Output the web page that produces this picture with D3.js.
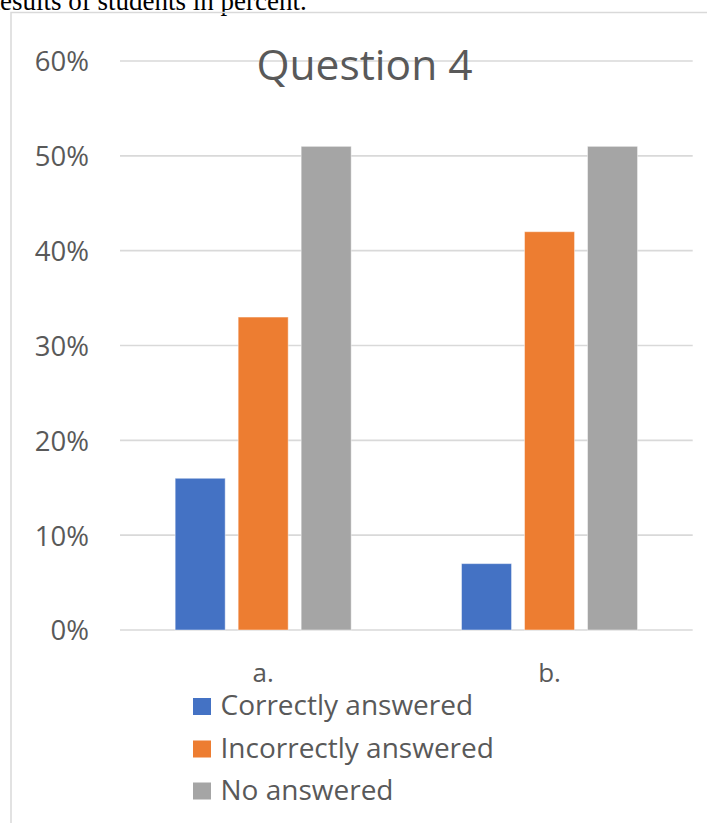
<!DOCTYPE html>
<html>
<head>
<meta charset="utf-8">
<script src="https://cdn.jsdelivr.net/npm/d3@7/dist/d3.min.js"></script>
<style>
  html, body { margin: 0; padding: 0; background: #fff; overflow: hidden; }
  svg { display: block; }
</style>
</head>
<body>
<svg id="chart" width="707" height="823"></svg>
<script>
// ---- data ----
const categories = ["a.", "b."];
const seriesNames = ["Correctly answered", "Incorrectly answered", "No answered"];
const correctly = [0.16, 0.07];
const incorrectly = [0.33, 0.42];
const noAnswered = [0.51, 0.51];
const yTicks = [0, 0.1, 0.2, 0.3, 0.4, 0.5, 0.6];
const titleText = "Question 4";
const captionText = "Results of students in percent.";

const seriesValues = [correctly, incorrectly, noAnswered];
const colors = ["#4472C4", "#ED7D31", "#A5A5A5"];

const svg = d3.select("#chart");
const textColor = "#595959";
const font = "'Open Sans', sans-serif";

// caption above the chart (cropped in the reference)
svg.append("text")
  .attr("x", -18).attr("y", 10)
  .attr("font-family", "'Liberation Serif', 'Times New Roman', serif")
  .attr("font-size", 27)
  .attr("fill", "#000")
  .text(captionText);

// chart frame
svg.append("path")
  .attr("d", "M11,823 L11,12.5 L707,12.5")
  .attr("fill", "none")
  .attr("stroke", "#d9d9d9")
  .attr("stroke-width", 1.5);

const plot = { left: 120, right: 692.7, top: 61, bottom: 630 };

const y = d3.scaleLinear().domain([0, 0.6]).range([plot.bottom, plot.top]);
const x0 = d3.scaleBand().domain(categories).range([plot.left, plot.right])
  .paddingInner(0.3853).paddingOuter(0.3853 / 2);
const x1 = d3.scaleBand().domain(d3.range(seriesNames.length)).range([0, x0.bandwidth()])
  .paddingInner(0.206).paddingOuter(0);

// gridlines
svg.append("g").selectAll("line").data(yTicks).join("line")
  .attr("x1", plot.left).attr("x2", plot.right)
  .attr("y1", d => y(d)).attr("y2", d => y(d))
  .attr("stroke", "#d9d9d9").attr("stroke-width", 1.6);

// y axis labels
const yAxis = d3.axisLeft(y).tickValues(yTicks).tickFormat(d3.format(".0%")).tickSize(0).tickPadding(0);
const yg = svg.append("g").attr("transform", `translate(89,0)`).call(yAxis);
yg.select(".domain").remove();
yg.selectAll("text")
  .attr("font-family", font).attr("font-size", 27.5).attr("fill", textColor)
  .attr("dy", "0.36em");

// title
svg.append("text")
  .attr("x", 364.5).attr("y", 80)
  .attr("text-anchor", "middle")
  .attr("font-family", font).attr("font-size", 42.5)
  .attr("fill", textColor)
  .text(titleText);

// bars
const groups = svg.append("g").selectAll("g").data(categories).join("g")
  .attr("transform", c => `translate(${x0(c)},0)`);
groups.selectAll("rect")
  .data((c, ci) => seriesValues.map((vals, si) => ({ si, v: vals[ci] })))
  .join("rect")
  .attr("x", d => x1(d.si))
  .attr("width", x1.bandwidth())
  .attr("y", d => y(d.v))
  .attr("height", d => y(0) - y(d.v))
  .attr("fill", d => colors[d.si])
  .attr("stroke", "rgba(255,255,255,0.45)")
  .attr("stroke-width", 1);

// x axis labels
const xAxis = d3.axisBottom(x0).tickSize(0).tickPadding(0);
const xg = svg.append("g").attr("transform", `translate(0,682)`).call(xAxis);
xg.select(".domain").remove();
xg.selectAll("text")
  .attr("font-family", font).attr("font-size", 26).attr("fill", textColor)
  .attr("dy", 0);

// legend
const legend = svg.append("g");
const rowY = [715, 757.5, 799.5];
const items = legend.selectAll("g").data(seriesNames).join("g")
  .attr("transform", (d, i) => `translate(193,${rowY[i]})`);
items.append("rect")
  .attr("x", 0).attr("y", -17).attr("width", 18).attr("height", 17)
  .attr("fill", (d, i) => colors[i]);
items.append("text")
  .attr("x", 27.5).attr("y", 0)
  .attr("font-family", font).attr("font-size", 28).attr("fill", textColor)
  .text(d => d);
</script>
</body>
</html>
